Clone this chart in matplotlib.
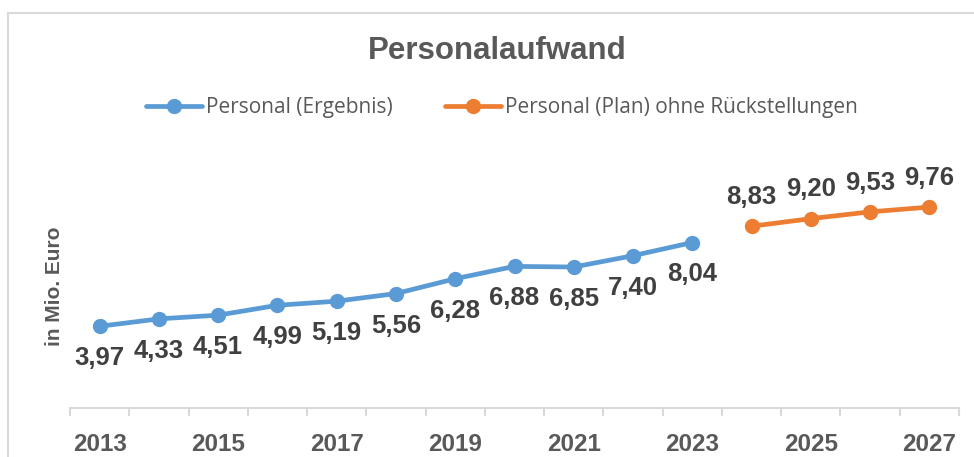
import matplotlib
matplotlib.use('Agg')
import matplotlib.pyplot as plt
import matplotlib.patches as mpatches
import numpy as np

years = list(range(2013, 2028))
ist_years = list(range(2013, 2024))
ist_values = [3.97, 4.33, 4.51, 4.99, 5.19, 5.56, 6.28, 6.88, 6.85, 7.40, 8.04]
plan_years = [2024, 2025, 2026, 2027]
plan_values = [8.83, 9.20, 9.53, 9.76]
tick_years = [2013, 2015, 2017, 2019, 2021, 2023, 2025, 2027]

blue = '#5B9BD5'
orange = '#ED7D31'
grey_txt = '#595959'
label_txt = '#404040'
line_grey = '#D9D9D9'


def main():
    plt.rcParams['font.family'] = ['Liberation Sans', 'DejaVu Sans']
    fig = plt.figure(figsize=(9.74, 4.57), dpi=100)
    W, H = 974, 457

    # chart border (Excel chart area, cut off on right and bottom)
    fig.patches.append(mpatches.Rectangle((8 / W, -0.1), 1.2, (H - 13) / H + 0.1,
                                          transform=fig.transFigure, fill=False,
                                          ec=line_grey, lw=1.5))

    ax = fig.add_axes([70 / W, (H - 408) / H, (959 - 70) / W, (408 - 161) / H])
    x_ist = [years.index(y) for y in ist_years]
    x_plan = [years.index(y) for y in plan_years]

    ax.plot(x_ist, ist_values, color=blue, lw=3.4, marker='o', ms=10,
            solid_capstyle='round', label='Personal (Ergebnis)')
    ax.plot(x_plan, plan_values, color=orange, lw=3.4, marker='o', ms=10,
            solid_capstyle='round', label='Personal (Plan) ohne Rückstellungen')

    for x, v in zip(x_ist, ist_values):
        ax.annotate(f'{v:.2f}'.replace('.', ','), (x, v), xytext=(0, -23),
                    textcoords='offset points', ha='center', va='center',
                    fontsize=18.5, fontweight='bold', color=label_txt)
    for x, v in zip(x_plan, plan_values):
        ax.annotate(f'{v:.2f}'.replace('.', ','), (x, v), xytext=(0, 21),
                    textcoords='offset points', ha='center', va='center',
                    fontsize=18.5, fontweight='bold', color=label_txt)

    ax.set_xlim(-0.5, len(years) - 0.5)
    ax.set_ylim(0, 12)
    for s in ['top', 'right', 'left']:
        ax.spines[s].set_visible(False)
    ax.spines['bottom'].set_color(line_grey)
    ax.spines['bottom'].set_linewidth(1.5)
    ax.set_yticks([])

    ax.set_xticks([years.index(y) for y in tick_years])
    ax.set_xticklabels([str(y) for y in tick_years], fontsize=17.5,
                       fontweight='bold', color=grey_txt)
    ax.set_xticks(np.arange(-0.5, len(years)), minor=True)
    ax.tick_params(axis='x', which='major', length=0, pad=18)
    ax.tick_params(axis='x', which='minor', length=6, width=1.5, color=line_grey,
                   direction='out')

    fig.text(55 / W, (H - 286) / H, 'in Mio. Euro', rotation=90, ha='center',
             va='center', fontsize=15, fontweight='bold', color=grey_txt)

    fig.text(497 / W, (H - 51) / H, 'Personalaufwand', ha='center', va='center',
             fontsize=22.5, fontweight='bold', color=grey_txt)

    leg = fig.legend(loc='center', bbox_to_anchor=(502 / W, (H - 108) / H), ncol=2,
                     frameon=False,
                     prop={'family': ['Liberation Sans Narrow', 'Open Sans'], 'size': 15},
                     handlelength=2.7, handletextpad=0.2, columnspacing=2.5)
    for t in leg.get_texts():
        t.set_color(grey_txt)

    fig.savefig('out.png', dpi=100)


if __name__ == '__main__':
    main()
